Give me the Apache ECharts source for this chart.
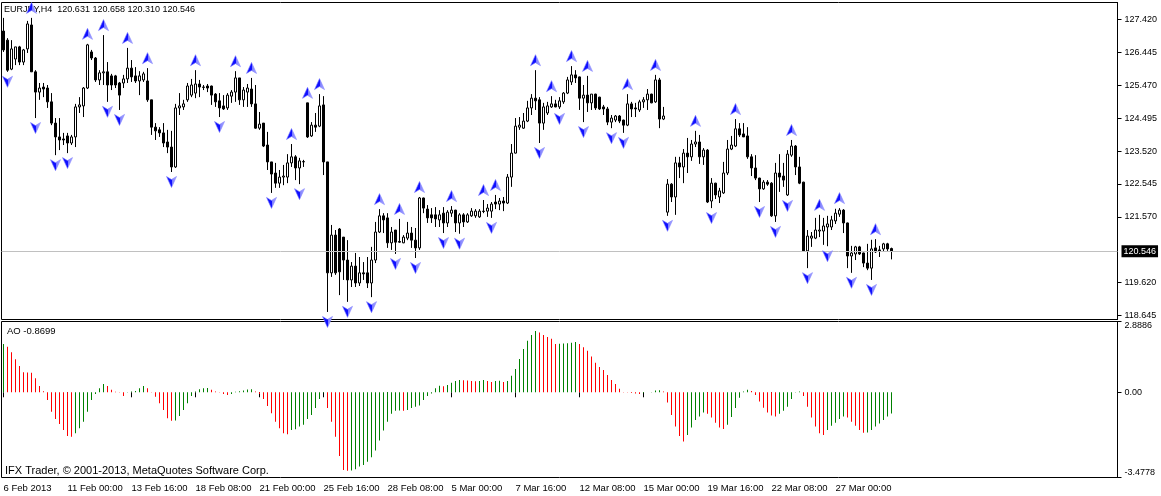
<!DOCTYPE html>
<html><head><meta charset="utf-8">
<script src="https://cdn.jsdelivr.net/npm/echarts@6/dist/echarts.min.js"></script>
<style>html,body{margin:0;padding:0;background:#fff}#c{width:1161px;height:496px}</style>
</head><body><div id="c"></div>
<script>
// ---- data (EURJPY H4) ----
const opens = [
127.08,126.81,125.95,126.25,126.61,126.16,126.55,127.26,125.87,125.27,
125.42,125.39,124.98,124.35,123.94,123.88,123.97,123.76,123.94,124.83,
124.86,125.39,126.46,126.28,125.63,125.84,125.87,125.75,125.75,125.54,
125.54,125.66,125.98,125.75,125.60,125.63,125.60,125.04,124.23,124.15,
124.06,123.79,123.64,123.05,124.80,124.83,125.04,125.18,125.24,125.51,
125.42,125.45,125.45,125.21,125.01,124.86,124.80,125.15,125.27,125.69,
125.04,125.27,125.36,124.92,124.20,124.35,123.70,123.20,122.87,122.57,
122.75,122.75,123.17,123.35,123.02,123.20,124.95,123.97,124.29,124.26,
124.89,123.20,119.91,121.03,121.21,120.97,120.29,119.70,120.11,119.61,
119.91,119.91,119.61,120.29,121.12,121.60,121.54,120.80,121.18,120.84,
120.80,120.94,121.09,120.88,120.65,122.13,121.80,121.63,121.63,121.48,
121.68,121.39,121.68,121.77,121.39,121.63,121.42,121.60,121.60,121.57,
121.74,121.74,121.74,122.01,121.95,122.04,121.98,122.75,123.46,124.23,
124.20,124.41,124.80,125.09,125.04,124.35,124.65,124.83,124.92,124.83,
124.98,125.24,125.57,125.78,125.72,125.09,125.18,124.95,125.21,125.12,
124.83,124.77,124.38,124.44,124.56,124.44,124.29,124.92,124.80,124.74,
124.98,125.04,125.21,124.98,125.63,124.47,121.71,122.54,122.16,123.17,
123.05,123.46,123.35,123.73,123.79,123.35,123.55,122.04,122.57,122.16,
122.28,122.87,123.58,123.67,124.18,124.03,123.97,123.35,123.02,122.72,
122.40,122.60,122.57,121.60,122.87,122.78,122.22,123.40,123.67,123.05,
122.60,120.56,120.94,120.94,121.15,121.15,121.27,121.27,121.45,121.65,
121.77,121.39,120.41,120.47,120.68,120.50,120.20,120.05,120.65,120.59,
120.62,120.77,120.631];
const highs = [
127.47,126.87,126.81,126.61,126.64,126.55,127.38,127.47,125.92,125.54,
125.54,125.48,125.24,124.50,124.50,124.06,124.06,124.00,124.92,125.12,
125.42,126.70,126.52,126.31,125.92,126.96,126.16,125.81,125.78,125.57,
125.78,126.58,126.22,126.01,125.89,125.87,125.98,125.04,124.35,124.23,
124.35,124.15,124.12,124.92,125.24,125.04,125.54,125.66,125.92,125.63,
125.48,125.51,125.46,125.24,125.24,125.18,125.24,125.33,125.89,125.69,
125.42,125.51,125.69,125.48,124.68,124.35,124.09,123.20,123.17,122.96,
123.11,123.43,123.73,123.40,123.32,123.26,124.95,124.38,124.65,125.21,
125.15,123.20,121.33,121.18,121.24,120.97,120.88,120.23,120.50,120.38,
120.23,120.38,120.68,121.42,121.80,121.68,121.68,121.27,121.18,121.51,
121.03,121.42,121.27,121.24,122.16,122.14,121.92,121.83,121.86,121.77,
121.86,121.77,121.89,121.78,121.68,121.68,121.68,121.83,121.80,121.80,
122.07,121.95,122.01,122.22,122.13,122.16,122.84,123.73,124.50,124.53,
124.65,125.01,125.21,125.92,125.12,124.95,124.98,125.15,125.04,125.12,
125.27,125.72,126.04,125.92,125.73,125.48,125.75,125.21,125.22,125.13,
124.89,124.83,124.59,124.59,124.59,124.45,125.21,124.98,124.95,125.04,
125.12,125.36,125.22,125.78,125.69,124.83,122.69,122.57,123.35,123.35,
123.58,123.91,123.85,124.12,124.00,123.61,123.58,122.72,122.58,122.43,
123.20,123.85,123.97,124.47,124.35,124.35,124.23,123.43,123.40,122.73,
122.66,122.66,122.60,123.17,123.43,123.17,123.55,123.85,123.70,123.35,
122.61,121.18,121.12,121.54,121.63,121.54,121.60,121.60,121.81,121.83,
121.80,121.40,120.71,120.71,120.71,120.51,120.77,120.89,120.91,120.71,
120.80,120.80,120.658];
const lows = [
126.46,125.87,125.92,126.07,126.07,126.07,126.43,125.87,124.50,125.04,
125.12,124.80,124.29,123.40,123.55,123.70,123.46,123.70,123.64,124.65,
124.53,125.36,126.22,125.57,125.48,125.48,124.98,125.33,125.39,124.74,
125.39,125.54,125.57,125.54,125.18,125.57,124.98,124.00,123.85,123.94,
123.64,123.46,122.90,123.02,124.59,124.74,124.98,125.12,125.09,125.12,
125.33,125.27,124.89,124.83,124.53,124.74,124.74,124.95,124.98,124.89,
124.83,124.83,124.83,124.18,124.15,123.64,122.96,122.28,122.43,122.43,
122.51,122.57,123.05,122.66,122.54,123.05,123.91,123.94,124.09,124.23,
122.81,118.75,119.79,119.85,119.25,119.70,119.05,119.49,119.49,119.52,
119.70,119.46,119.19,120.20,121.09,121.09,120.65,120.59,120.47,120.80,
120.79,120.88,120.65,120.35,120.59,121.68,121.39,121.39,121.27,121.27,
121.09,121.27,121.57,121.12,121.07,121.27,121.39,121.57,121.54,121.54,
121.68,121.57,121.54,121.80,121.77,121.74,121.95,122.46,123.45,124.15,
124.18,124.38,124.59,124.74,123.76,124.15,124.59,124.80,124.82,124.77,
124.92,125.21,125.48,125.54,124.74,124.38,124.68,124.74,124.74,124.74,
124.59,124.29,124.20,124.38,124.35,124.06,124.26,124.53,124.53,124.68,
124.80,124.74,124.94,124.95,124.20,124.44,121.60,122.01,121.63,122.72,
122.57,122.87,123.23,123.64,123.14,123.11,121.98,121.83,122.10,121.98,
122.25,122.81,123.55,123.64,123.94,123.94,123.29,122.78,122.66,122.01,
122.37,122.49,121.57,121.42,122.31,122.46,122.19,123.35,122.81,122.54,
120.53,120.05,120.68,120.91,120.97,120.74,120.70,121.18,121.36,121.57,
121.09,120.05,119.91,120.29,120.44,120.08,119.99,119.70,120.50,120.38,
120.53,120.56,120.310];
const closes = [
126.52,125.92,126.55,126.61,126.16,126.52,127.29,125.87,125.27,125.39,
125.36,124.98,124.35,123.94,123.85,123.85,123.76,123.94,124.83,124.89,
125.39,126.67,126.28,125.63,125.84,125.87,125.48,125.48,125.48,125.18,
125.66,125.98,125.72,125.60,125.75,125.81,125.04,124.23,124.12,124.06,
123.76,123.64,123.05,124.80,124.86,124.92,125.45,125.48,125.51,125.42,
125.41,125.39,125.18,124.98,124.80,124.77,125.18,125.27,125.69,125.04,
125.33,125.39,124.92,124.20,124.32,123.67,123.20,122.84,122.57,122.75,
122.78,123.17,123.35,123.02,123.23,123.21,123.94,124.29,124.23,124.86,
123.20,119.91,121.03,119.91,119.94,120.29,119.70,120.11,119.61,119.91,
119.88,119.61,120.29,121.12,121.60,121.48,120.80,121.12,120.82,120.82,
120.97,121.09,120.88,120.65,122.13,121.83,121.54,121.54,121.51,121.63,
121.39,121.71,121.77,121.39,121.63,121.42,121.63,121.74,121.74,121.74,
121.73,121.83,121.95,121.95,122.04,121.98,122.75,123.46,124.26,124.29,
124.41,124.80,125.09,125.01,124.35,124.83,124.86,124.92,124.83,125.01,
125.24,125.63,125.78,125.69,125.09,125.18,124.95,125.21,124.80,124.77,
124.77,124.38,124.50,124.56,124.41,124.29,124.92,124.77,124.77,124.98,
125.04,125.21,124.95,125.63,124.47,124.56,122.54,122.16,123.17,123.05,
123.46,123.35,123.73,123.79,123.35,123.55,122.01,122.57,122.22,122.34,
122.87,123.58,123.70,124.18,124.00,123.94,123.35,123.02,122.72,122.40,
122.60,122.54,121.60,122.87,122.75,122.66,123.43,123.67,123.05,122.57,
120.56,121.00,121.00,121.18,121.18,121.30,121.36,121.48,121.68,121.77,
121.39,120.41,120.50,120.68,120.47,120.20,120.05,120.62,120.53,120.56,
120.77,120.62,120.546];
const aoValues = [
1.97,1.86,1.63,1.35,1.07,0.82,0.81,0.80,0.57,0.26,
0.04,-0.31,-0.79,-1.09,-1.29,-1.54,-1.78,-1.81,-1.67,-1.47,
-1.20,-0.79,-0.31,-0.07,0.16,0.34,0.26,0.10,0.02,-0.01,
-0.15,-0.005,0.03,0.05,0.16,0.26,0.16,-0.01,-0.18,-0.45,
-0.72,-1.06,-1.16,-1.15,-0.97,-0.72,-0.45,-0.15,0.03,0.12,
0.16,0.17,0.10,0.03,-0.005,-0.07,-0.11,-0.07,0.02,0.04,
0.07,0.11,0.12,0.03,-0.07,-0.27,-0.56,-0.86,-1.20,-1.47,
-1.67,-1.71,-1.54,-1.51,-1.40,
-1.33,-1.09,-0.93,-0.64,-0.27,-0.02,-0.64,-1.20,-1.81,-2.60,
-3.17,-3.20,-3.19,-3.14,-3.03,-2.97,-2.84,-2.65,-2.38,-1.97,
-1.56,-1.20,-0.88,-0.75,-0.74,-0.75,-0.72,-0.64,-0.59,-0.54,
-0.31,-0.15,-0.05,0.16,0.27,0.25,0.30,0.39,0.46,0.50,
0.49,0.48,0.46,0.45,0.46,0.50,0.46,0.42,0.46,0.47,
0.42,0.46,0.67,0.95,1.36,1.77,2.10,2.34,2.50,2.44,
2.34,2.26,2.18,1.97,1.98,1.99,2.00,2.02,2.05,1.97,
1.84,1.70,1.46,1.21,1.03,
0.91,0.71,0.50,0.34,0.14,0.01,-0.005,-0.03,-0.05,-0.07,
-0.03,0.004,0.01,0.07,0.08,0.03,-0.42,-0.93,-1.40,-1.78,
-2.01,-1.74,-1.44,-1.13,-0.99,-0.83,-0.88,-1.03,-1.24,-1.44,
-1.50,-1.33,-1.01,-0.64,-0.22,0.03,0.10,0.05,-0.11,-0.38,
-0.63,-0.83,-0.95,-0.99,-0.88,-0.75,-0.59,-0.27,-0.005,0.03,
-0.15,-0.59,-1.03,-1.40,-1.67,-1.74,-1.54,-1.37,-1.24,-1.09,
-0.99,-1.03,-1.20,-1.37,-1.54,-1.65,-1.64,-1.54,-1.40,-1.27,
-1.13,-0.99,-0.8699];
const upFractalBars = [7,21,25,31,36,48,58,62,72,76,79,94,99,104,112,120,123,133,137,142,146,156,163,173,183,197,204,209,218];
const downFractalBars = [1,8,13,16,26,29,42,54,67,74,81,86,92,98,103,110,114,122,134,139,145,152,155,166,177,189,193,196,201,206,212,217];
const timeLabels = ['6 Feb 2013','11 Feb 00:00','13 Feb 16:00','18 Feb 08:00','21 Feb 00:00','25 Feb 16:00','28 Feb 08:00','5 Mar 00:00','7 Mar 16:00','12 Mar 08:00','15 Mar 00:00','19 Mar 16:00','22 Mar 08:00','27 Mar 00:00'];
const priceTicks = [118.645,119.620,121.570,122.545,123.520,124.495,125.470,126.445,127.420];
const aoTicks = [-3.4778,0,2.8886];
const bidPrice = 120.546;
const titleText = 'EURJPY,H4  120.631 120.658 120.310 120.546';
const aoTitle = 'AO -0.8699';
const copyright = 'IFX Trader, \u00A9 2001-2013, MetaQuotes Software Corp.';

// ---- chart ----
const FONT = "'Liberation Sans', Arial, sans-serif";
const N_SLOTS = 279; // includes the empty right-hand shift area
const LABEL_STEP = 16;
const categories = Array.from({length: N_SLOTS}, (_, i) => String(i));
const candleData = opens.map((o, i) => [o, closes[i], lows[i], highs[i]]);
const aoColors = [];
aoValues.forEach((v, i) => {
  if (i === 0) aoColors.push('#008000');
  else if (v > aoValues[i-1]) aoColors.push('#008000');
  else if (v < aoValues[i-1]) aoColors.push('#ff0000');
  else aoColors.push(aoColors[i-1]);
});
const lastBar = opens.length - 1;
const showIdx = i => i % LABEL_STEP === 0 && i <= lastBar;
const fractalFill = new echarts.graphic.LinearGradient(0, 0, 1, 0, [
  {offset: 0, color: '#1010ff'}, {offset: 0.5, color: '#1010ff'},
  {offset: 0.55, color: '#7a7aff'}, {offset: 1, color: '#b4b4ff'}
]);

const chart = echarts.init(document.getElementById('c'), null, {renderer: 'canvas'});
const txt = (size) => ({fontSize: size, fontWeight: 'normal', color: '#000', fontFamily: FONT});
chart.setOption({
  animation: false,
  backgroundColor: '#fff',
  title: [
    {text: titleText, left: 4, top: 5, padding: 0, textStyle: txt(9)},
    {text: aoTitle, left: 7, top: 326, padding: 0, textStyle: txt(9.5)},
    {text: copyright, left: 5, top: 465, padding: 0, textStyle: txt(11)}
  ],
  grid: [
    {left: 1.5, right: 43.5, top: 2.5, height: 317, show: true, borderColor: '#000', borderWidth: 1, backgroundColor: 'transparent', containLabel: false, outerBoundsMode: 'none'},
    {left: 1.5, right: 43.5, top: 321.5, height: 156, show: true, borderColor: '#000', borderWidth: 1, backgroundColor: 'transparent', containLabel: false, outerBoundsMode: 'none'}
  ],
  xAxis: [
    {type: 'category', gridIndex: 0, data: categories, boundaryGap: true,
     axisLine: {show: false}, axisTick: {show: false}, axisLabel: {show: false}, splitLine: {show: false}},
    {type: 'category', gridIndex: 1, data: categories, boundaryGap: true,
     axisLine: {show: false},
     axisTick: {show: true, alignWithLabel: true, interval: (i) => showIdx(i), length: 5, lineStyle: {color: '#000', width: 1}},
     axisLabel: {show: true, interval: (i) => showIdx(i), formatter: (v, i) => timeLabels[Math.round(i / LABEL_STEP)],
       align: 'left', padding: [0, 0, 0, 0], margin: 6, color: '#000', fontSize: 9.5, fontFamily: FONT},
     splitLine: {show: false}}
  ],
  yAxis: [
    {type: 'value', gridIndex: 0, position: 'right', min: 118.527, max: 127.926,
     splitLine: {show: false},
     axisLine: {show: true, lineStyle: {color: '#000', width: 1}},
     axisTick: {show: true, customValues: priceTicks, length: 4, lineStyle: {color: '#000'}},
     axisLabel: {show: true, customValues: priceTicks, formatter: v => v.toFixed(3), margin: 7, color: '#000', fontSize: 9, fontFamily: FONT}},
    {type: 'value', gridIndex: 1, position: 'right', min: -3.4778, max: 2.8886,
     splitLine: {show: false},
     axisLine: {show: true, lineStyle: {color: '#000', width: 1}},
     axisTick: {show: true, customValues: aoTicks, length: 4, lineStyle: {color: '#000'}},
     axisLabel: {show: true, customValues: aoTicks, showMinLabel: true, showMaxLabel: true,
       verticalAlignMaxLabel: 'top', verticalAlignMinLabel: 'bottom',
       formatter: v => (v === 0 ? '0.00' : v.toFixed(4)), margin: 7, color: '#000', fontSize: 9, fontFamily: FONT}}
  ],
  series: [
    {type: 'candlestick', xAxisIndex: 0, yAxisIndex: 0, data: candleData, barWidth: 2,
     itemStyle: {color: '#ffffff', color0: '#000000', borderColor: '#000000', borderColor0: '#000000', borderWidth: 1},
     markLine: {silent: true, symbol: ['none', 'none'], animation: false,
       data: [{yAxis: bidPrice}],
       lineStyle: {color: '#c0c0c0', type: 'solid', width: 1},
       label: {show: true, position: 'end', distance: 4, formatter: () => bidPrice.toFixed(3),
         backgroundColor: '#000', color: '#fff', padding: [2, 2, 1, 2], fontSize: 9, fontFamily: FONT},
       emphasis: {disabled: true}},
     z: 3},
    {type: 'scatter', xAxisIndex: 0, yAxisIndex: 0, z: 10,
     data: upFractalBars.map(i => [i, highs[i]]),
     symbol: 'path://M5,0 L10,11 L5,8 L0,11 Z', symbolSize: [10, 11], symbolOffset: [0, -10],
     itemStyle: {color: fractalFill, borderColor: '#8080ff', borderWidth: 0.6, opacity: 1}},
    {type: 'scatter', xAxisIndex: 0, yAxisIndex: 0, z: 10,
     data: downFractalBars.map(i => [i, lows[i]]),
     symbol: 'path://M0,0 L5,3 L10,0 L5,11 Z', symbolSize: [10, 11], symbolOffset: [0, 10],
     itemStyle: {color: fractalFill, borderColor: '#8080ff', borderWidth: 0.6, opacity: 1}},
    {type: 'bar', xAxisIndex: 1, yAxisIndex: 1, barWidth: 1,
     data: aoValues.map((v, i) => ({value: v, itemStyle: {color: aoColors[i]}}))}
  ]
});
</script></body></html>
